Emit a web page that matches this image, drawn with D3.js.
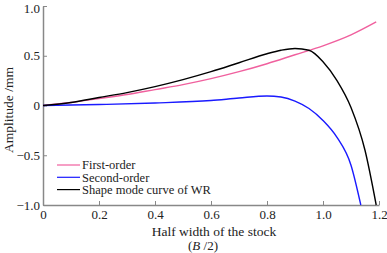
<!DOCTYPE html>
<html>
<head>
<meta charset="utf-8">
<script src="https://cdn.jsdelivr.net/npm/d3@7"></script>
<style>
  body { margin: 0; background: #fff; }
  text { font-family: "Liberation Serif", "DejaVu Serif", serif; fill: #222; }
</style>
</head>
<body>
<div id="chart"></div>
<script>
const xTicks = [0, 0.2, 0.4, 0.6, 0.8, 1.0, 1.2];
const yTicks = [-1.0, -0.5, 0, 0.5, 1.0];
const xTickLabels = ["0", "0.2", "0.4", "0.6", "0.8", "1.0", "1.2"];
const yTickLabels = ["\u22121.0", "\u22120.5", "0", "0.5", "1.0"];

const firstX = [0, 0.1, 0.2, 0.3, 0.4, 0.5, 0.6, 0.7, 0.8, 0.9, 1.0, 1.1, 1.19];
const firstY = [0, 0.03, 0.07, 0.11, 0.16, 0.21, 0.27, 0.34, 0.42, 0.51, 0.6, 0.71, 0.84];

const secondX = [0, 0.2, 0.4, 0.6, 0.7, 0.8, 0.85, 0.9, 0.95, 1.0, 1.05, 1.1, 1.135];
const secondY = [0, 0.01, 0.025, 0.05, 0.075, 0.095, 0.085, 0.045, -0.03, -0.15, -0.32, -0.6, -1.0];

const shapeX = [0, 0.1, 0.2, 0.3, 0.4, 0.5, 0.6, 0.7, 0.8, 0.85, 0.9, 0.95, 1.0, 1.05, 1.1, 1.15, 1.19];
const shapeY = [0, 0.03, 0.08, 0.13, 0.19, 0.26, 0.34, 0.43, 0.52, 0.555, 0.573, 0.555, 0.44, 0.25, -0.02, -0.45, -1.0];

const seriesNames = ["First-order", "Second-order", "Shape mode curve of WR"];
const seriesColors = ["#f0609e", "#1a1aff", "#000000"];

const width = 387, height = 253;
const margin = { left: 43, right: 8, top: 6, bottom: 48 };

const svg = d3.select("#chart").append("svg")
    .attr("width", width)
    .attr("height", height);

const x = d3.scaleLinear().domain([0, 1.2]).range([margin.left, width - margin.right]);
const y = d3.scaleLinear().domain([-1, 1]).range([height - margin.bottom, margin.top]);

// axes
const xAxis = svg.append("g")
    .attr("transform", `translate(0,${y(-1)})`)
    .call(d3.axisBottom(x).tickValues(xTicks).tickSizeInner(-4).tickSizeOuter(0)
        .tickFormat((d, i) => xTickLabels[i]));
xAxis.select(".domain").attr("stroke", "#888").attr("stroke-width", 1.5);
xAxis.selectAll(".tick line").attr("stroke", "#888");
xAxis.selectAll(".tick text").attr("y", 5).attr("dy", "0.71em")
    .style("font-size", "13px").style("font-family", "Liberation Serif").attr("fill", "#222");

const yAxis = svg.append("g")
    .attr("transform", `translate(${margin.left},0)`)
    .call(d3.axisLeft(y).tickValues(yTicks).tickSizeInner(-4).tickSizeOuter(0)
        .tickFormat((d, i) => yTickLabels[i]));
yAxis.select(".domain").attr("stroke", "#888").attr("stroke-width", 1.5);
yAxis.selectAll(".tick line").attr("stroke", "#888");
yAxis.selectAll(".tick text").attr("x", -3).attr("dy", d => d === 1 ? "0.5em" : "0.32em")
    .style("font-size", "13px").style("font-family", "Liberation Serif").attr("fill", "#222");

// curves
const line = d3.line()
    .x(d => x(d[0]))
    .y(d => y(d[1]))
    .curve(d3.curveMonotoneX);

const series = [
    d3.zip(firstX, firstY),
    d3.zip(secondX, secondY),
    d3.zip(shapeX, shapeY)
];

svg.selectAll("path.curve")
    .data(series)
    .enter()
    .append("path")
    .attr("class", "curve")
    .attr("d", line)
    .attr("fill", "none")
    .attr("stroke", (d, i) => seriesColors[i])
    .attr("stroke-width", 1.4);

// legend
const legend = svg.append("g").attr("transform", "translate(57,165)");
seriesNames.forEach((name, i) => {
    legend.append("line")
        .attr("x1", 0).attr("x2", 23)
        .attr("y1", i * 12.3).attr("y2", i * 12.3)
        .attr("stroke", seriesColors[i])
        .attr("stroke-width", 1.2);
    legend.append("text")
        .attr("x", 25).attr("y", i * 12.3)
        .attr("dy", "0.35em")
        .style("font-size", "12.5px")
        .text(name);
});

// axis titles
svg.append("text")
    .attr("x", 214).attr("y", 236)
    .attr("text-anchor", "middle")
    .style("font-size", "13.5px")
    .text("Half width of the stock");

svg.append("text")
    .attr("x", 203).attr("y", 250)
    .attr("text-anchor", "middle")
    .style("font-size", "13px")
    .html("(<tspan font-style='italic'>B</tspan> /2)");

svg.append("text")
    .attr("transform", `translate(13,110) rotate(-90)`)
    .attr("text-anchor", "middle")
    .style("font-size", "13.5px")
    .text("Amplitude /mm");
</script>
</body>
</html>
